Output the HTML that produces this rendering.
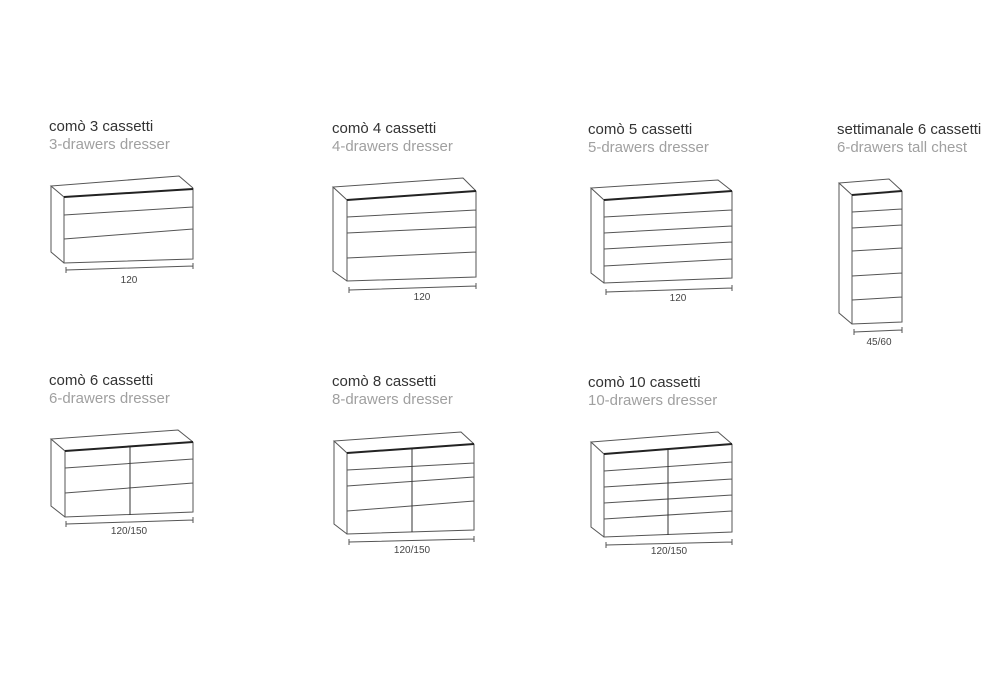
<!DOCTYPE html>
<html><head><meta charset="utf-8"><style>
body{margin:0;background:#fff;width:1000px;height:700px;overflow:hidden;font-family:"Liberation Sans",sans-serif}
.t{position:absolute;font-size:15px;line-height:17px;white-space:nowrap}
.a{color:#333}.b{color:#a0a0a0}
svg{position:absolute;left:0;top:0}
</style></head><body>
<div class="t a" style="left:49px;top:118px">comò 3 cassetti</div>
<div class="t b" style="left:49px;top:136px">3-drawers dresser</div>
<div class="t a" style="left:332px;top:120px">comò 4 cassetti</div>
<div class="t b" style="left:332px;top:138px">4-drawers dresser</div>
<div class="t a" style="left:588px;top:121px">comò 5 cassetti</div>
<div class="t b" style="left:588px;top:139px">5-drawers dresser</div>
<div class="t a" style="left:837px;top:121px">settimanale 6 cassetti</div>
<div class="t b" style="left:837px;top:139px">6-drawers tall chest</div>
<div class="t a" style="left:49px;top:372px">comò 6 cassetti</div>
<div class="t b" style="left:49px;top:390px">6-drawers dresser</div>
<div class="t a" style="left:332px;top:373px">comò 8 cassetti</div>
<div class="t b" style="left:332px;top:391px">8-drawers dresser</div>
<div class="t a" style="left:588px;top:374px">comò 10 cassetti</div>
<div class="t b" style="left:588px;top:392px">10-drawers dresser</div>
<svg width="1000" height="700" viewBox="0 0 1000 700" fill="none" stroke="#555" stroke-width="1" font-family="Liberation Sans, sans-serif" font-size="10">
<!-- 1 -->
<path d="M64,197 L51,186 L179,176 L193,188 M51,186 L51,252 L64,263 M64,197 L64,263 L193,259 L193,188 M64,215 L193,207 M64,239 L193,229"/>
<path d="M64,197 L193,189" stroke="#222" stroke-width="2"/>
<path d="M66,270 L193,266 M66,267 L66,273 M193,263 L193,269"/>
<text x="129" y="283" fill="#444" stroke="none" text-anchor="middle">120</text>
<!-- 2 -->
<path d="M347,200 L333,187 L463,178 L476,191 M333,187 L333,271 L347,281 M347,200 L347,281 L476,277 L476,191 M347,217 L476,210 M347,233 L476,227 M347,258 L476,252"/>
<path d="M347,200 L476,191" stroke="#222" stroke-width="2"/>
<path d="M349,290 L476,286 M349,287 L349,293 M476,283 L476,289"/>
<text x="422" y="300" fill="#444" stroke="none" text-anchor="middle">120</text>
<!-- 3 -->
<path d="M604,200 L591,188 L718,180 L732,191 M591,188 L591,273 L604,283 M604,200 L604,283 L732,278 L732,191 M604,217 L732,210 M604,233 L732,226 M604,249 L732,242 M604,266 L732,259"/>
<path d="M604,200 L732,191" stroke="#222" stroke-width="2"/>
<path d="M606,292 L732,288 M606,289 L606,295 M732,285 L732,291"/>
<text x="678" y="301" fill="#444" stroke="none" text-anchor="middle">120</text>
<!-- 4 -->
<path d="M852,195 L839,183 L889,179 L902,191 M839,183 L839,313 L852,324 M852,195 L852,324 L902,322 L902,191 M852,212 L902,209 M852,228 L902,225 M852,251 L902,248 M852,276 L902,273 M852,300 L902,297"/>
<path d="M852,195 L902,191" stroke="#222" stroke-width="2"/>
<path d="M854,332 L902,330 M854,329 L854,335 M902,327 L902,333"/>
<text x="879" y="345" fill="#444" stroke="none" text-anchor="middle">45/60</text>
<!-- 5 -->
<path d="M65,451 L51,439 L178,430 L193,442 M51,439 L51,506 L65,517 M65,451 L65,517 L193,512 L193,442 M65,468 L193,459 M65,493 L193,483"/>
<path d="M130,447 L130,515" stroke="#333"/>
<path d="M65,451 L193,442" stroke="#222" stroke-width="2"/>
<path d="M66,524 L193,520 M66,521 L66,527 M193,517 L193,523"/>
<text x="129" y="534" fill="#444" stroke="none" text-anchor="middle">120/150</text>
<!-- 6 -->
<path d="M347,453 L334,441 L461,432 L474,444 M334,441 L334,524 L347,534 M347,453 L347,534 L474,530 L474,444 M347,470 L474,463 M347,486 L474,477 M347,511 L474,501"/>
<path d="M412,449 L412,532" stroke="#333"/>
<path d="M347,453 L474,444" stroke="#222" stroke-width="2"/>
<path d="M349,542 L474,539 M349,539 L349,545 M474,536 L474,542"/>
<text x="412" y="553" fill="#444" stroke="none" text-anchor="middle">120/150</text>
<!-- 7 -->
<path d="M604,454 L591,442 L718,432 L732,444 M591,442 L591,527 L604,537 M604,454 L604,537 L732,532 L732,444 M604,471 L732,462 M604,487 L732,479 M604,503 L732,495 M604,519 L732,511"/>
<path d="M668,449 L668,535" stroke="#333"/>
<path d="M604,454 L732,444" stroke="#222" stroke-width="2"/>
<path d="M606,545 L732,542 M606,542 L606,548 M732,539 L732,545"/>
<text x="669" y="554" fill="#444" stroke="none" text-anchor="middle">120/150</text>
</svg>
</body></html>
